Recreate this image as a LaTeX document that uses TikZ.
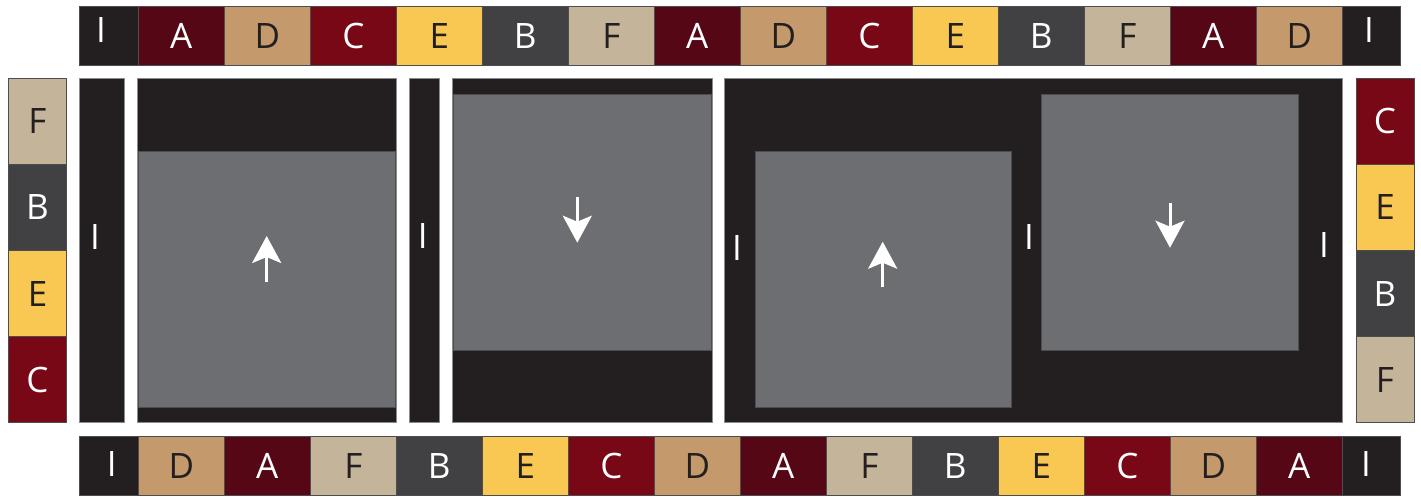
\documentclass[tikz,border=0pt]{standalone}
\usepackage{fontspec}
\setmainfont{Open Sans}
\usetikzlibrary{arrows.meta}
\definecolor{cI}{HTML}{231F20}
\definecolor{cG}{HTML}{6D6E71}
\definecolor{cA}{HTML}{560716}
\definecolor{cD}{HTML}{C49A6C}
\definecolor{cC}{HTML}{780815}
\definecolor{cE}{HTML}{F9C852}
\definecolor{cB}{HTML}{414042}
\definecolor{cF}{HTML}{C4B59A}
\definecolor{edge}{HTML}{4D4D4F}
\definecolor{edgelight}{HTML}{8A8B8D}
\newcommand{\bx}[7]{%
  \pgfmathsetmacro\bxw{#4-(#2)}\pgfmathsetmacro\bxh{#5-(#3)}%
  \node[#6, minimum width=\bxw pt, minimum height=\bxh pt] (#1) at ({(#2+#4)/2},{(#3+#5)/2}) {#7};}
\tikzset{
  base/.style={rectangle, inner sep=0pt, outer sep=0pt, font=\fontsize{35}{40}\selectfont},
  cellI/.style={base, fill=cI, draw=edge, line width=0.8pt, text=white},
  cellA/.style={base, fill=cA, draw=edge, line width=0.8pt, text=white},
  cellC/.style={base, fill=cC, draw=edge, line width=0.8pt, text=white},
  cellB/.style={base, fill=cB, draw=edge, line width=0.8pt, text=white},
  cellD/.style={base, fill=cD, draw=edge, line width=0.8pt, text=cI},
  cellE/.style={base, fill=cE, draw=edge, line width=0.8pt, text=cI},
  cellF/.style={base, fill=cF, draw=edge, line width=0.8pt, text=cI},
  panel/.style={base, fill=cI, draw=edgelight, line width=0.7pt},
  graybox/.style={base, fill=cG, draw=edge, line width=0.6pt},
  lbl/.style={inner sep=0pt, text=white, font=\fontsize{35}{40}\selectfont},
  arr/.style={draw=white, line width=3pt, -{Stealth[length=27pt, width=29pt, inset=6pt]}}
}
\begin{document}
\begin{tikzpicture}[x=1pt,y=-1pt]
\useasboundingbox (0,0) rectangle (1421,496);
% ---------- top strip ----------
\bx{t0}{79.3}{6.7}{138.3}{65}{cellI}{}
\node[lbl] (t0l) at (101,29.7) {I};
\foreach \L [count=\i] in {A,D,C,E,B,F,A,D,C,E,B,F,A,D}{
  \pgfmathsetmacro\xa{138.3+(\i-1)*86.0}
  \pgfmathsetmacro\xb{\xa+86.0}
  \bx{t\i}{\xa}{6.7}{\xb}{65}{cell\L}{\L}
}
\bx{t15}{1342.3}{6.7}{1400}{65}{cellI}{}
\node[lbl] (t15l) at (1369,29.7) {I};
% ---------- bottom strip ----------
\bx{b0}{79.3}{436.7}{138.3}{495}{cellI}{}
\node[lbl] (b0l) at (111.7,463.5) {I};
\foreach \L [count=\i] in {D,A,F,B,E,C,D,A,F,B,E,C,D,A}{
  \pgfmathsetmacro\xa{138.3+(\i-1)*86.0}
  \pgfmathsetmacro\xb{\xa+86.0}
  \bx{b\i}{\xa}{436.7}{\xb}{495}{cell\L}{\L}
}
\bx{b15}{1342.3}{436.7}{1400}{495}{cellI}{}
\node[lbl] (b15l) at (1366,463.5) {I};
% ---------- left column ----------
\foreach \L [count=\i] in {F,B,E,C}{
  \pgfmathsetmacro\ya{78.3+(\i-1)*86.1}
  \pgfmathsetmacro\yb{\ya+86.1}
  \bx{l\i}{8.3}{\ya}{66.7}{\yb}{cell\L}{\L}
}
% ---------- right column ----------
\foreach \L [count=\i] in {C,E,B,F}{
  \pgfmathsetmacro\ya{78.3+(\i-1)*86.1}
  \pgfmathsetmacro\yb{\ya+86.1}
  \bx{r\i}{1356}{\ya}{1414}{\yb}{cell\L}{\L}
}
% ---------- middle ----------
\bx{bar1}{79.3}{78.3}{124.3}{422.7}{panel}{}
\node[lbl] (bar1l) at (95,237) {I};
\bx{p1}{137}{78.3}{396}{422.7}{panel}{}
\bx{g1}{138.7}{151}{395.3}{407.7}{graybox}{}
\bx{bar2}{409.3}{78.3}{439.3}{422.7}{panel}{}
\node[lbl] (bar2l) at (422.7,236) {I};
\bx{p2}{452.3}{78.3}{712.3}{422.7}{panel}{}
\bx{g2}{453.5}{94}{711}{350.7}{graybox}{}
\bx{p3}{724.3}{78.3}{1342.7}{422.7}{panel}{}
\bx{g3}{755}{151}{1011.7}{407.7}{graybox}{}
\bx{g4}{1041.3}{94}{1298.7}{350.7}{graybox}{}
\node[lbl] (p3la) at (737,248) {I};
\node[lbl] (p3lb) at (1029,237) {I};
\node[lbl] (p3lc) at (1324,245) {I};
% ---------- arrows ----------
\coordinate (a1s) at (266.7,281.7); \coordinate (a1e) at (266.7,236);
\coordinate (a2s) at (577.3,197.3); \coordinate (a2e) at (577.3,242.7);
\coordinate (a3s) at (882.7,287.3); \coordinate (a3e) at (882.7,241.7);
\coordinate (a4s) at (1170,202.7);  \coordinate (a4e) at (1170,247.7);
\draw[arr] (a1s) -- (a1e);
\draw[arr] (a2s) -- (a2e);
\draw[arr] (a3s) -- (a3e);
\draw[arr] (a4s) -- (a4e);
\end{tikzpicture}
\end{document}
